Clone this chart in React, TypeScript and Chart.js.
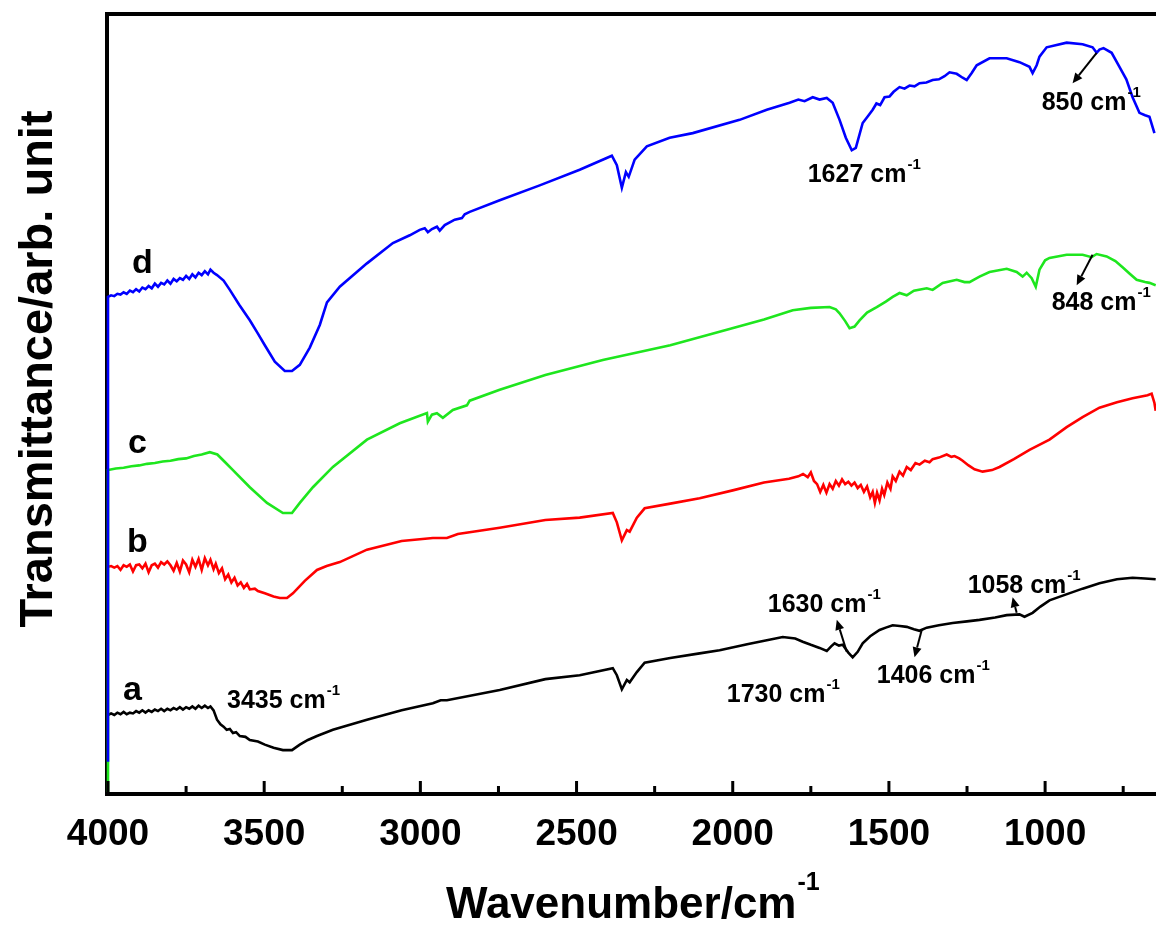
import React, { useEffect, useRef } from "react";
import { Chart, registerables } from "chart.js";

Chart.register(...registerables);

// ---- Data: [wavenumber (cm-1), transmittance (arb. unit)] ----
const SERIES_D: [number, number][] = [
  [4000, 4.0], [4000, 63.6], [3990, 63.8], [3980, 63.7], [3970, 64.0], [3960, 63.9], [3950, 64.2],
  [3940, 64.0], [3930, 64.4], [3920, 64.2], [3910, 64.6], [3900, 64.3], [3890, 64.8], [3880, 64.6],
  [3870, 65.0], [3860, 64.7], [3850, 65.3], [3840, 64.9], [3830, 65.4], [3820, 65.2], [3810, 65.7],
  [3800, 65.3], [3790, 65.9], [3780, 65.6], [3770, 66.0], [3760, 65.8], [3750, 66.3], [3740, 65.9],
  [3730, 66.5], [3720, 66.1], [3710, 66.7], [3700, 66.4], [3690, 66.9], [3680, 66.5], [3672, 67.1],
  [3662, 66.7], [3651, 66.4], [3630, 65.7],
  [3610, 64.5], [3580, 62.6], [3546, 60.6], [3520, 58.9], [3498, 57.4], [3466, 55.3], [3434, 54.1],
  [3411, 54.1], [3386, 54.9], [3354, 57.1], [3322, 60.0], [3299, 62.9], [3258, 64.9], [3171, 67.9],
  [3088, 70.5], [3034, 71.5], [3002, 72.2], [2986, 72.4], [2976, 71.9], [2963, 72.3], [2947, 72.6],
  [2938, 72.1], [2922, 72.8], [2890, 73.5], [2867, 73.7], [2858, 74.2], [2842, 74.5], [2746, 76.0],
  [2618, 77.9], [2490, 79.9], [2387, 81.7], [2371, 80.5], [2355, 77.6], [2342, 79.6], [2333, 79.0],
  [2314, 81.2], [2275, 82.9], [2202, 84.0], [2128, 84.6], [1978, 86.3], [1891, 87.6], [1818, 88.5],
  [1790, 88.9], [1770, 88.7], [1744, 89.2], [1722, 88.9], [1699, 89.1], [1680, 88.5], [1658, 86.3],
  [1638, 84.0], [1619, 82.4], [1606, 82.7], [1584, 85.9], [1565, 86.9], [1552, 87.6], [1540, 88.4],
  [1528, 88.2], [1514, 89.2], [1498, 89.3], [1485, 89.9], [1466, 90.5], [1450, 90.3], [1434, 90.7],
  [1418, 90.6], [1402, 91.0], [1380, 91.1], [1360, 91.4], [1340, 91.5], [1322, 91.9], [1306, 92.4],
  [1283, 92.2], [1264, 91.7], [1251, 91.4], [1235, 92.3], [1219, 93.3], [1178, 94.2], [1123, 94.2],
  [1082, 93.7], [1050, 93.1], [1040, 92.3], [1027, 93.3], [1018, 94.4], [995, 95.6], [931, 96.2],
  [880, 96.0], [848, 95.6], [835, 94.9], [826, 95.3], [813, 95.5], [787, 94.9], [762, 93.1],
  [740, 91.5], [720, 89.2], [698, 87.2], [680, 86.9], [666, 86.7], [650, 84.6],
];

const SERIES_C: [number, number][] = [
  [4000, 0], [4000, 41.4], [3975, 41.6], [3950, 41.7], [3925, 41.9], [3900, 42.0], [3875, 42.2],
  [3850, 42.3], [3825, 42.5], [3800, 42.6], [3775, 42.8], [3750, 42.9], [3725, 43.2], [3700, 43.4],
  [3674, 43.7], [3650, 43.4], [3625, 42.4], [3600, 41.4], [3546, 39.2], [3491, 37.2], [3440, 35.9],
  [3411, 35.9], [3386, 37.2], [3344, 39.2], [3280, 41.8], [3171, 45.3], [3066, 47.4], [2979, 48.7],
  [2976, 47.6], [2963, 48.5], [2947, 48.7], [2928, 48.1], [2896, 49.1], [2851, 49.7], [2842, 50.3],
  [2746, 51.7], [2600, 53.6], [2416, 55.5], [2200, 57.4], [2019, 59.4], [1900, 60.7], [1808, 61.9],
  [1750, 62.2], [1690, 62.3], [1670, 62.0], [1658, 61.5], [1640, 60.5], [1626, 59.6], [1610, 59.8],
  [1594, 60.6], [1570, 61.6], [1539, 62.3], [1510, 63.0], [1488, 63.6], [1466, 64.1], [1443, 63.8],
  [1420, 64.4], [1379, 64.7], [1360, 64.5], [1328, 65.4], [1283, 65.8], [1258, 65.5], [1242, 65.5],
  [1210, 66.2], [1178, 66.8], [1123, 67.2], [1091, 66.8], [1072, 66.2], [1059, 66.7], [1043, 66.0],
  [1030, 64.9], [1018, 67.1], [1000, 68.3], [986, 68.6], [931, 69.0], [880, 69.0], [851, 68.7],
  [835, 69.1], [803, 68.8], [775, 68.2], [752, 67.4], [730, 66.6], [707, 65.8], [680, 65.5],
  [666, 65.4], [646, 65.1],
];

const SERIES_B: [number, number][] = [
  [4000, 29.0], [3990, 29.1], [3980, 28.9], [3970, 29.1], [3960, 28.6], [3950, 29.2], [3940, 29.0],
  [3930, 29.3], [3920, 28.4], [3910, 29.2], [3900, 29.3], [3890, 28.8], [3880, 29.4], [3870, 28.3],
  [3860, 29.2], [3850, 29.4], [3840, 28.9], [3830, 29.6], [3820, 29.3], [3810, 29.7], [3800, 29.2],
  [3790, 28.5], [3780, 29.5], [3770, 28.4], [3760, 29.8], [3750, 29.3], [3740, 28.3], [3730, 29.9],
  [3720, 29.0], [3710, 30.0], [3700, 28.6], [3690, 30.1], [3680, 29.2], [3672, 29.9], [3662, 28.7],
  [3655, 29.4], [3645, 28.2], [3635, 28.8], [3625, 27.4], [3615, 28.0], [3605, 27.0], [3595, 27.6],
  [3585, 26.6], [3575, 27.0], [3565, 26.3], [3555, 26.8], [3546, 26.1], [3530, 26.2], [3520, 25.9],
  [3498, 25.6], [3470, 25.2],
  [3450, 25.0], [3427, 25.0], [3408, 25.6], [3370, 27.2], [3331, 28.6], [3300, 29.1], [3258, 29.6],
  [3171, 31.2], [3060, 32.3], [2960, 32.7], [2915, 32.7], [2880, 33.2], [2746, 34.0], [2600, 35.0],
  [2490, 35.3], [2384, 35.9], [2371, 34.7], [2355, 32.4], [2339, 33.7], [2330, 33.5], [2307, 35.3],
  [2282, 36.5], [2200, 37.1], [2106, 37.8], [2000, 38.8], [1900, 39.8], [1820, 40.3], [1790, 40.6],
  [1775, 40.9], [1760, 40.5], [1750, 41.1], [1740, 40.0], [1730, 39.6], [1720, 38.6], [1710, 39.5],
  [1700, 38.5], [1690, 39.6], [1680, 39.0], [1670, 40.0], [1660, 39.4], [1650, 40.2], [1640, 39.6],
  [1630, 39.9], [1620, 39.4], [1610, 39.8], [1600, 39.1], [1590, 39.5], [1580, 38.6], [1570, 39.3],
  [1560, 37.9], [1552, 38.6], [1545, 37.2], [1538, 38.5], [1530, 37.5], [1522, 39.0], [1515, 38.2],
  [1505, 39.8], [1495, 39.0], [1488, 40.6], [1478, 40.0], [1466, 41.2], [1455, 40.7], [1443, 41.8],
  [1430, 41.4], [1415, 42.3], [1402, 42.1], [1385, 42.6], [1370, 42.4], [1360, 42.8], [1340, 43.0],
  [1315, 43.4], [1300, 43.1], [1290, 43.2], [1275, 42.9], [1264, 42.6], [1245, 42.0], [1226, 41.5],
  [1200, 41.2], [1170, 41.4], [1146, 41.8], [1100, 42.8], [1050, 44.0], [986, 45.3], [931, 46.9],
  [880, 48.2], [826, 49.4], [770, 50.1], [720, 50.6], [672, 51.0], [659, 51.2], [650, 50.0],
  [646, 49.0],
];

const SERIES_A: [number, number][] = [
  [4000, 10.0], [3990, 10.2], [3980, 10.0], [3970, 10.3], [3960, 10.1], [3950, 10.4], [3940, 10.1],
  [3930, 10.3], [3920, 10.2], [3910, 10.5], [3900, 10.3], [3890, 10.6], [3880, 10.3], [3870, 10.6],
  [3860, 10.4], [3850, 10.7], [3840, 10.5], [3830, 10.8], [3820, 10.5], [3810, 10.8], [3800, 10.6],
  [3790, 10.9], [3780, 10.7], [3770, 11.0], [3760, 10.7], [3750, 11.0], [3740, 10.8], [3730, 11.1],
  [3720, 10.8], [3710, 11.2], [3700, 10.9], [3690, 11.2], [3680, 10.9], [3672, 11.1], [3662, 10.6],
  [3651, 9.4], [3640, 8.8], [3630, 8.5], [3620, 8.1], [3610, 8.2], [3600, 7.7], [3590, 7.8],
  [3578, 7.3], [3560, 7.2], [3546, 6.8], [3520, 6.6], [3498, 6.2], [3470, 5.8], [3440, 5.5],
  [3411, 5.5], [3386, 6.2], [3360, 6.8], [3331, 7.3], [3280, 8.1], [3171, 9.4], [3060, 10.6],
  [2960, 11.5], [2935, 11.9], [2915, 11.9], [2746, 13.2], [2600, 14.6], [2490, 15.1], [2384, 16.0],
  [2371, 15.1], [2355, 13.3], [2339, 14.5], [2330, 14.2], [2307, 15.5], [2282, 16.7], [2200, 17.3],
  [2106, 17.9], [2042, 18.3], [1950, 19.1], [1840, 20.0], [1800, 19.8], [1776, 19.4], [1750, 19.0],
  [1722, 18.6], [1699, 18.2], [1685, 18.8], [1674, 19.2], [1660, 18.9], [1648, 19.0], [1630, 18.0],
  [1616, 17.4], [1600, 18.1], [1584, 19.2], [1560, 20.1], [1530, 20.9], [1510, 21.2], [1488, 21.5],
  [1465, 21.4], [1443, 21.3], [1420, 21.0], [1402, 20.8], [1379, 21.2], [1340, 21.5], [1296, 21.8],
  [1250, 22.0], [1210, 22.2], [1160, 22.5], [1123, 22.8], [1082, 22.9], [1066, 22.6], [1040, 23.1],
  [1015, 23.9], [986, 24.7], [930, 25.5], [880, 26.2], [826, 26.9], [770, 27.4], [720, 27.6],
  [680, 27.5], [646, 27.4],
];

const X_MAJOR_TICKS = [4000, 3500, 3000, 2500, 2000, 1500, 1000];
const X_MINOR_TICKS = [3750, 3250, 2750, 2250, 1750, 1250, 750];

const CURVE_LABELS = [
  { text: "d", x: 3923, y: 66.7 },
  { text: "c", x: 3936, y: 43.6 },
  { text: "b", x: 3939, y: 30.9 },
  { text: "a", x: 3952, y: 11.9 },
];

const PEAK_LABELS = [
  { text: "3435 cm", x: 3619, y: 10.9 },
  { text: "1627 cm", x: 1760, y: 78.3 },
  { text: "850 cm", x: 1011, y: 87.6 },
  { text: "848 cm", x: 979, y: 61.9 },
  { text: "1630 cm", x: 1888, y: 23.2 },
  { text: "1406 cm", x: 1539, y: 14.1 },
  { text: "1058 cm", x: 1248, y: 25.6 },
  { text: "1730 cm", x: 2019, y: 11.7 },
];

const ARROWS = [
  { from: [835, 94.9], to: [912, 91.0] },
  { from: [848, 69.0], to: [899, 65.1] },
  { from: [1635, 18.1], to: [1667, 22.2] },
  { from: [1395, 20.9], to: [1418, 17.4] },
  { from: [1091, 23.1], to: [1104, 25.1] },
];

const FONT = '"Liberation Sans", Arial, Helvetica, sans-serif';

function drawSup(ctx: CanvasRenderingContext2D, x: number, y: number, main: string, size: number, supSize: number, rise: number) {
  ctx.textAlign = "left";
  ctx.textBaseline = "alphabetic";
  ctx.font = `bold ${size}px ${FONT}`;
  ctx.fillText(main, x, y);
  const w = ctx.measureText(main).width;
  ctx.font = `bold ${supSize}px ${FONT}`;
  ctx.fillText("-1", x + w + 1, y - rise);
}

const framePlugin = {
  id: "frame",
  beforeDatasetsDraw(chart: any) {
    const { ctx, chartArea: ca } = chart;
    ctx.save();
    ctx.strokeStyle = "#000";
    ctx.lineWidth = 4;
    ctx.beginPath();
    ctx.moveTo(ca.left - 1, ca.top - 1);
    ctx.lineTo(ca.left - 1, ca.bottom + 2);
    ctx.stroke();
    ctx.restore();
  },
  afterDatasetsDraw(chart: any) {
    const { ctx, chartArea: ca, scales } = chart;
    const xs = scales.x;
    const ys = scales.y;
    ctx.save();
    ctx.strokeStyle = "#000";
    ctx.fillStyle = "#000";
    ctx.lineWidth = 4;
    ctx.beginPath();
    ctx.moveTo(ca.left - 3, ca.top + 1);
    ctx.lineTo(ca.right, ca.top + 1);
    ctx.stroke();
    ctx.beginPath();
    ctx.moveTo(ca.left - 3, ca.bottom + 1);
    ctx.lineTo(ca.right, ca.bottom + 1);
    ctx.stroke();

    ctx.lineWidth = 3;
    for (const t of X_MAJOR_TICKS) {
      const px = xs.getPixelForValue(t);
      ctx.beginPath();
      ctx.moveTo(px, ca.bottom);
      ctx.lineTo(px, ca.bottom - 12);
      ctx.stroke();
    }
    for (const t of X_MINOR_TICKS) {
      const px = xs.getPixelForValue(t);
      ctx.beginPath();
      ctx.moveTo(px, ca.bottom);
      ctx.lineTo(px, ca.bottom - 7);
      ctx.stroke();
    }

    ctx.font = `bold 37px ${FONT}`;
    ctx.textAlign = "center";
    ctx.textBaseline = "alphabetic";
    for (const t of X_MAJOR_TICKS) {
      const px = xs.getPixelForValue(t);
      ctx.fillText(String(t), px, ca.bottom + 52);
    }

    // x title
    drawSup(ctx, 446, 918, "Wavenumber/cm", 44, 25, 28);

    // y title
    ctx.save();
    ctx.translate(52, 369);
    ctx.rotate(-Math.PI / 2);
    ctx.font = `bold 47px ${FONT}`;
    ctx.textAlign = "center";
    ctx.textBaseline = "alphabetic";
    ctx.fillText("Transmittance/arb. unit", 0, 0);
    ctx.restore();

    // curve letters
    ctx.font = `bold 34px ${FONT}`;
    ctx.textAlign = "left";
    for (const l of CURVE_LABELS) {
      ctx.fillText(l.text, xs.getPixelForValue(l.x), ys.getPixelForValue(l.y));
    }

    // peak labels
    for (const p of PEAK_LABELS) {
      drawSup(ctx, xs.getPixelForValue(p.x), ys.getPixelForValue(p.y), p.text, 25, 15, 13);
    }

    // arrows
    ctx.lineWidth = 2;
    for (const a of ARROWS) {
      const x0 = xs.getPixelForValue(a.from[0]);
      const y0 = ys.getPixelForValue(a.from[1]);
      const x1 = xs.getPixelForValue(a.to[0]);
      const y1 = ys.getPixelForValue(a.to[1]);
      const ang = Math.atan2(y1 - y0, x1 - x0);
      const hl = 10;
      const hw = 4.5;
      const bx = x1 - hl * Math.cos(ang);
      const by = y1 - hl * Math.sin(ang);
      ctx.beginPath();
      ctx.moveTo(x0, y0);
      ctx.lineTo(bx, by);
      ctx.stroke();
      ctx.beginPath();
      ctx.moveTo(x1, y1);
      ctx.lineTo(bx + hw * Math.sin(ang), by - hw * Math.cos(ang));
      ctx.lineTo(bx - hw * Math.sin(ang), by + hw * Math.cos(ang));
      ctx.closePath();
      ctx.fill();
    }
    ctx.restore();
  },
};

const toPts = (s: [number, number][]) => s.map(([x, y]) => ({ x, y }));

export default function App() {
  const ref = useRef<HTMLCanvasElement>(null);
  useEffect(() => {
    if (!ref.current) return;
    const mk = (label: string, data: [number, number][], color: string) => ({
      label,
      data: toPts(data),
      borderColor: color,
      backgroundColor: color,
      borderWidth: 2.6,
      pointRadius: 0,
      tension: 0,
      fill: false,
      clip: { left: 4, top: 2, right: 0, bottom: 2 },
    });
    const chart = new Chart(ref.current, {
      type: "line",
      data: {
        datasets: [
          mk("d", SERIES_D, "rgb(0,0,255)"),
          mk("c", SERIES_C, "rgb(30,230,30)"),
          mk("b", SERIES_B, "rgb(255,0,0)"),
          mk("a", SERIES_A, "rgb(0,0,0)"),
        ] as any,
      },
      options: {
        animation: false,
        responsive: false,
        devicePixelRatio: 1,
        parsing: false as any,
        normalized: true,
        layout: { padding: { left: 108, right: 0, top: 13, bottom: 135 } },
        plugins: { legend: { display: false }, tooltip: { enabled: false } },
        scales: {
          x: { type: "linear", min: 645, max: 4000, reverse: true, display: false },
          y: { type: "linear", min: 0, max: 100, display: false },
        },
      },
      plugins: [framePlugin],
    });
    return () => chart.destroy();
  }, []);
  return (
    <div style={{ position: "absolute", left: 0, top: 0, width: 1156, height: 928, background: "#fff" }}>
      <canvas ref={ref} width={1156} height={928} style={{ display: "block", width: 1156, height: 928 }} />
    </div>
  );
}
